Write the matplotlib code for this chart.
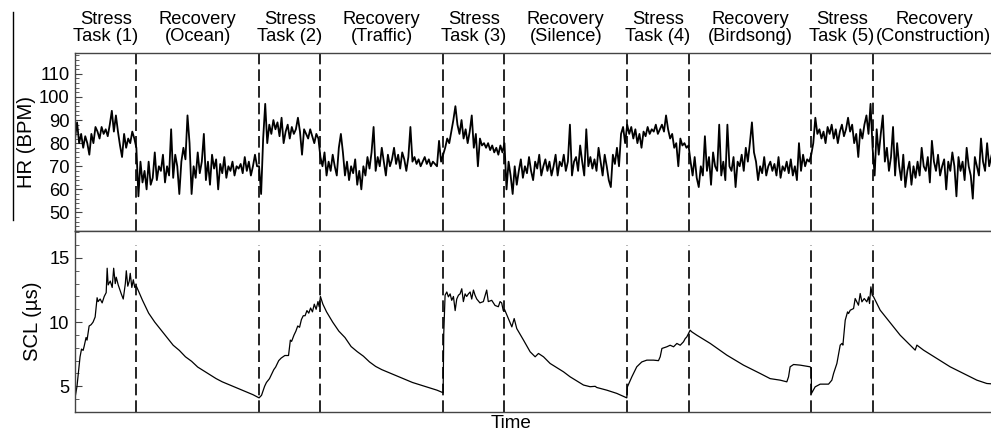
import numpy as np
import matplotlib
matplotlib.use("Agg")
import matplotlib.pyplot as plt
from matplotlib.lines import Line2D
from matplotlib.ticker import MultipleLocator

plt.rcParams['font.family'] = ['Liberation Sans', 'DejaVu Sans']

# phases: (label, start, end) in minutes
phase_labels = ["Stress\nTask (1)", "Recovery\n(Ocean)", "Stress\nTask (2)", "Recovery\n(Traffic)",
                "Stress\nTask (3)", "Recovery\n(Silence)", "Stress\nTask (4)", "Recovery\n(Birdsong)",
                "Stress\nTask (5)", "Recovery\n(Construction)"]
phase_edges = [0, 5, 15, 20, 30, 35, 45, 50, 60, 65, 75]

# heart rate, one list per phase (evenly sampled inside the phase)
hr_stress1 = [82, 89, 80, 84, 78, 83, 80, 75, 84, 80, 87, 85, 82, 87, 84, 86, 83, 88, 94, 85,
              92, 85, 79, 74, 84, 78, 82, 80, 85, 82]
hr_ocean = [78, 57, 72, 63, 68, 60, 72, 62, 65, 76, 64, 70, 68, 75, 63, 70, 66, 86, 65, 75,
            70, 58, 72, 78, 73, 92, 80, 58, 70, 65, 76, 67, 72, 84, 64, 72, 62, 75, 69, 73,
            60, 71, 67, 74, 65, 70, 68, 72, 66, 70, 69, 71, 67, 74, 68, 72, 66, 70, 75, 70]
hr_stress2 = [70, 58, 82, 97, 80, 88, 84, 90, 86, 89, 83, 91, 80, 85, 88, 82, 87, 84, 86, 91,
              85, 75, 86, 84, 82, 86, 83, 80, 84, 82]
hr_traffic = [74, 70, 76, 66, 72, 68, 75, 70, 66, 78, 84, 76, 66, 72, 64, 70, 67, 73, 62, 68,
              60, 70, 66, 74, 69, 76, 87, 68, 74, 70, 78, 72, 66, 75, 70, 73, 78, 71, 75, 69,
              76, 73, 68, 74, 87, 72, 74, 71, 73, 70, 72, 74, 71, 73, 70, 72, 71, 70, 81, 72]
hr_stress3 = [75, 78, 82, 80, 85, 90, 96, 88, 84, 90, 82, 86, 80, 85, 92, 78, 84, 70, 82, 79,
              80, 78, 80, 77, 79, 76, 78, 75, 79, 76]
hr_silence = [80, 60, 72, 66, 58, 70, 62, 68, 73, 65, 70, 67, 74, 68, 64, 72, 69, 75, 66, 70,
              73, 68, 72, 66, 70, 75, 66, 72, 70, 75, 68, 72, 88, 66, 72, 74, 68, 79, 72, 66,
              86, 70, 74, 69, 73, 68, 78, 72, 66, 75, 70, 64, 61, 75, 71, 78, 70, 84, 87, 80]
hr_stress4 = [88, 84, 87, 82, 86, 80, 84, 78, 85, 83, 87, 84, 86, 85, 88, 84, 86, 88, 85, 92,
              86, 82, 84, 78, 80, 70, 82, 79, 80, 78]
hr_birdsong = [79, 72, 66, 74, 65, 61, 70, 66, 83, 68, 74, 62, 76, 70, 68, 88, 66, 72, 64, 88,
               70, 68, 74, 61, 72, 70, 75, 68, 78, 72, 80, 89, 76, 72, 64, 70, 67, 74, 66, 70,
               72, 68, 71, 66, 74, 65, 70, 68, 72, 67, 73, 66, 70, 64, 80, 68, 75, 70, 73, 72]
hr_stress5 = [75, 80, 91, 84, 86, 82, 85, 80, 87, 84, 88, 82, 86, 80, 85, 88, 83, 86, 91, 85,
              88, 80, 84, 74, 86, 82, 88, 92, 84, 97]
hr_construction = [78, 66, 86, 75, 84, 92, 72, 78, 68, 74, 87, 66, 80, 70, 64, 75, 61, 68, 72, 62,
                   70, 65, 72, 66, 78, 70, 68, 74, 63, 81, 72, 68, 75, 66, 70, 73, 60, 72, 68, 76,
                   70, 57, 74, 68, 72, 64, 78, 70, 66, 56, 74, 70, 66, 82, 72, 68, 80, 70, 74, 78]

# skin conductance level (time, value)
scl_t1 = [0, 0.16, 0.41, 0.53, 0.66, 0.74, 0.9, 0.98, 1.15, 1.31, 1.47, 1.64, 1.8, 1.88, 2.05,
          2.21, 2.38, 2.54, 2.62, 2.7, 2.87, 3.03, 3.15, 3.28, 3.36, 3.52, 3.77, 3.93, 4.1, 4.18,
          4.3, 4.42, 4.5, 4.63, 4.75, 4.87, 5.0]
scl_v1 = [4.1, 5.0, 7.3, 7.9, 7.8, 8.1, 8.8, 8.6, 9.7, 9.8, 10.0, 10.4, 11.9, 11.6, 11.8,
          11.5, 12.0, 12.3, 14.2, 12.9, 13.2, 12.7, 14.2, 13.0, 13.5, 12.9, 12.2, 11.8, 13.0, 14.0,
          12.8, 13.2, 13.8, 12.7, 13.3, 12.7, 12.8]
scl_t2 = [5.5, 6, 6.5, 7, 7.5, 8, 8.5, 9, 9.5, 10, 10.5, 11, 11.5, 12, 12.5, 13, 13.5, 14, 14.5, 15]
scl_v2 = [11.7, 10.7, 10.0, 9.4, 8.8, 8.2, 7.8, 7.3, 6.95, 6.5, 6.2, 5.9, 5.6, 5.35, 5.15, 4.95,
          4.75, 4.55, 4.35, 4.1]
scl_t3 = [15.2, 15.45, 15.6, 15.85, 16.0, 16.2, 16.35, 16.6, 16.8, 17.1, 17.4, 17.55, 17.65, 17.85,
          18.0, 18.15, 18.3, 18.45, 18.6, 18.75, 18.9, 19.05, 19.2, 19.35, 19.5, 19.65, 19.8, 19.9, 20.0]
scl_v3 = [4.3, 5.0, 5.3, 5.6, 5.9, 6.3, 6.5, 7.0, 7.2, 7.4, 7.4, 8.6, 8.5, 9.0,
          9.3, 9.7, 9.6, 10.2, 10.5, 10.5, 10.9, 10.7, 11.1, 10.8, 11.4, 11.0, 11.6, 11.2, 12.0]
scl_t4 = [20.2, 20.5, 21, 21.5, 22, 22.5, 23, 23.5, 24, 24.5, 25, 25.5, 26, 26.5, 27, 27.5, 28,
          28.5, 29, 29.5, 30.0]
scl_v4 = [11.4, 10.8, 10.0, 9.3, 8.8, 8.1, 7.7, 7.35, 6.9, 6.55, 6.3, 6.1, 5.9, 5.7, 5.5, 5.3, 5.15,
          5.0, 4.85, 4.7, 4.5]
scl_t5 = [30.05, 30.16, 30.3, 30.43, 30.57, 30.7, 30.84, 30.98, 31.11, 31.25, 31.38, 31.52, 31.65,
          31.79, 31.92, 32.06, 32.2, 32.33, 32.47, 32.6, 32.74, 33.0, 33.28, 33.55, 33.68, 33.96,
          34.23, 34.5, 34.64, 34.77, 34.9, 35.0]
scl_v5 = [9.1, 12.1, 12.35, 11.97, 12.2, 11.7, 12.0, 10.9, 11.8, 12.1, 12.2, 12.6, 11.6,
          12.2, 12.0, 12.2, 12.35, 11.8, 12.5, 12.1, 11.8, 11.5, 11.6, 12.5, 11.6, 11.7,
          11.3, 11.2, 11.6, 11.5, 10.9, 11.0]
scl_t6 = [35.32, 35.6, 35.79, 36.0, 36.55, 37.09, 37.5, 37.77, 38.18, 38.72, 39.81, 40.35, 41.44,
          41.98, 42.39, 42.52, 43.34, 44.15, 44.97]
scl_v6 = [10.28, 9.63, 10.28, 9.5, 8.6, 7.69, 7.3, 7.56, 7.3, 6.78, 6.13, 5.74, 5.1,
          4.97, 5.0, 4.91, 4.7, 4.45, 4.1]
scl_t7 = [45.02, 45.38, 45.78, 46.19, 46.6, 47.14, 47.55, 47.69, 47.83, 48.23, 48.5, 48.78, 49.05,
          49.32, 49.59, 49.73, 49.86, 50.0]
scl_v7 = [4.96, 5.74, 6.52, 6.9, 7.04, 7.04, 7.0, 7.3, 7.95, 8.08, 8.2, 8.08, 8.34,
          8.2, 8.47, 8.72, 8.85, 9.11]
scl_t8 = [50.13, 50.27, 50.68, 51.77, 53.12, 54.48, 55.84, 56.65, 57.47, 58.01, 58.15, 58.28, 58.56,
          59.1, 59.91, 60.0]
scl_v8 = [9.37, 9.24, 8.98, 8.34, 7.43, 6.65, 6.0, 5.6, 5.48, 5.35, 5.74, 6.52, 6.7,
          6.65, 6.52, 6.39]
scl_t9 = [60.02, 60.32, 60.73, 61.41, 61.68, 61.82, 62.09, 62.36, 62.5, 62.58, 62.77, 62.96, 63.04,
          63.18, 63.45, 63.58, 63.72, 63.85, 63.99, 64.13, 64.32, 64.53, 64.67, 64.75, 64.86, 64.97]
scl_v9 = [4.45, 4.96, 5.17, 5.17, 5.48, 6.0, 6.78, 8.21, 8.34, 8.21, 10.15, 10.8, 10.67,
          10.93, 11.06, 11.84, 11.58, 11.32, 12.23, 11.58, 11.84, 11.58, 11.97, 11.45, 12.75, 12.1]
scl_t10 = [65.08, 65.62, 66.16, 66.71, 67.25, 67.79, 68.47, 68.61, 69.15, 70.24, 71.32, 72.41, 73.5,
           74.31, 74.67, 75.0]
scl_v10 = [11.97, 10.93, 10.28, 9.63, 8.98, 8.47, 7.82, 8.21, 7.82, 7.17, 6.52, 6.0, 5.48,
           5.22, 5.2, 5.15]

hr_parts = [hr_stress1, hr_ocean, hr_stress2, hr_traffic, hr_stress3, hr_silence,
            hr_stress4, hr_birdsong, hr_stress5, hr_construction]
hr_t, hr_v = [], []
for i, part in enumerate(hr_parts):
    hr_t.extend(np.linspace(phase_edges[i], phase_edges[i + 1], len(part), endpoint=False))
    hr_v.extend(part)

scl_t = scl_t1 + scl_t2 + scl_t3 + scl_t4 + scl_t5 + scl_t6 + scl_t7 + scl_t8 + scl_t9 + scl_t10
scl_v = scl_v1 + scl_v2 + scl_v3 + scl_v4 + scl_v5 + scl_v6 + scl_v7 + scl_v8 + scl_v9 + scl_v10

fig = plt.figure(figsize=(9.91, 4.32), dpi=100)
ax1 = fig.add_axes([0.0757, 0.4653, 0.9243, 0.412])
ax2 = fig.add_axes([0.0757, 0.0463, 0.9243, 0.419])

fs = 13.2
fs_lab = 14.6
dash = (0, (7, 3))
for ax in (ax1, ax2):
    ax.set_xlim(0, 74.65)
    ax.set_xticks([])
    ax.spines['right'].set_visible(False)
    for s in ('left', 'top', 'bottom'):
        ax.spines[s].set_color('#444444')
        ax.spines[s].set_linewidth(1.0)
    ax.tick_params(axis='y', which='both', direction='in', labelsize=fs, pad=4, color='#444444')
    ax.tick_params(axis='y', which='major', length=5)
    ax.tick_params(axis='y', which='minor', length=3)

ax1.plot(hr_t, hr_v, color='black', lw=1.3)
ax1.set_ylim(42, 119)
ax1.set_yticks([50, 60, 70, 80, 90, 100, 110])
ax1.yaxis.set_minor_locator(MultipleLocator(2))
ax1.set_ylabel("HR (BPM)", fontsize=fs_lab, labelpad=2)
for e in phase_edges[1:-1]:
    ax1.axvline(e, color='black', lw=1.2, linestyle=dash)

ax2.plot(scl_t, scl_v, color='black', lw=0.9)
ax2.set_ylim(3, 17.1)
ax2.set_yticks([5, 10, 15])
ax2.yaxis.set_minor_locator(MultipleLocator(1))
ax2.set_ylabel("SCL (\u00b5s)", fontsize=fs_lab, labelpad=5)
ax2.vlines(phase_edges[1:-1], 3, 16, color='black', lw=1.2, linestyles=[dash])

for i, lab in enumerate(phase_labels):
    mid = (phase_edges[i] + phase_edges[i + 1]) / 2
    ax1.text(mid, 1.0 + 25 / 178, lab, transform=ax1.get_xaxis_transform(),
             ha='center', va='center', fontsize=fs, linespacing=1.0)

fig.text(0.516, 0.0, "Time", ha='center', va='bottom', fontsize=13.6)
fig.add_artist(Line2D([0.0131, 0.0131], [0.491, 0.972], transform=fig.transFigure,
                      color='black', lw=1.0))

fig.savefig("out.png", dpi=100)
